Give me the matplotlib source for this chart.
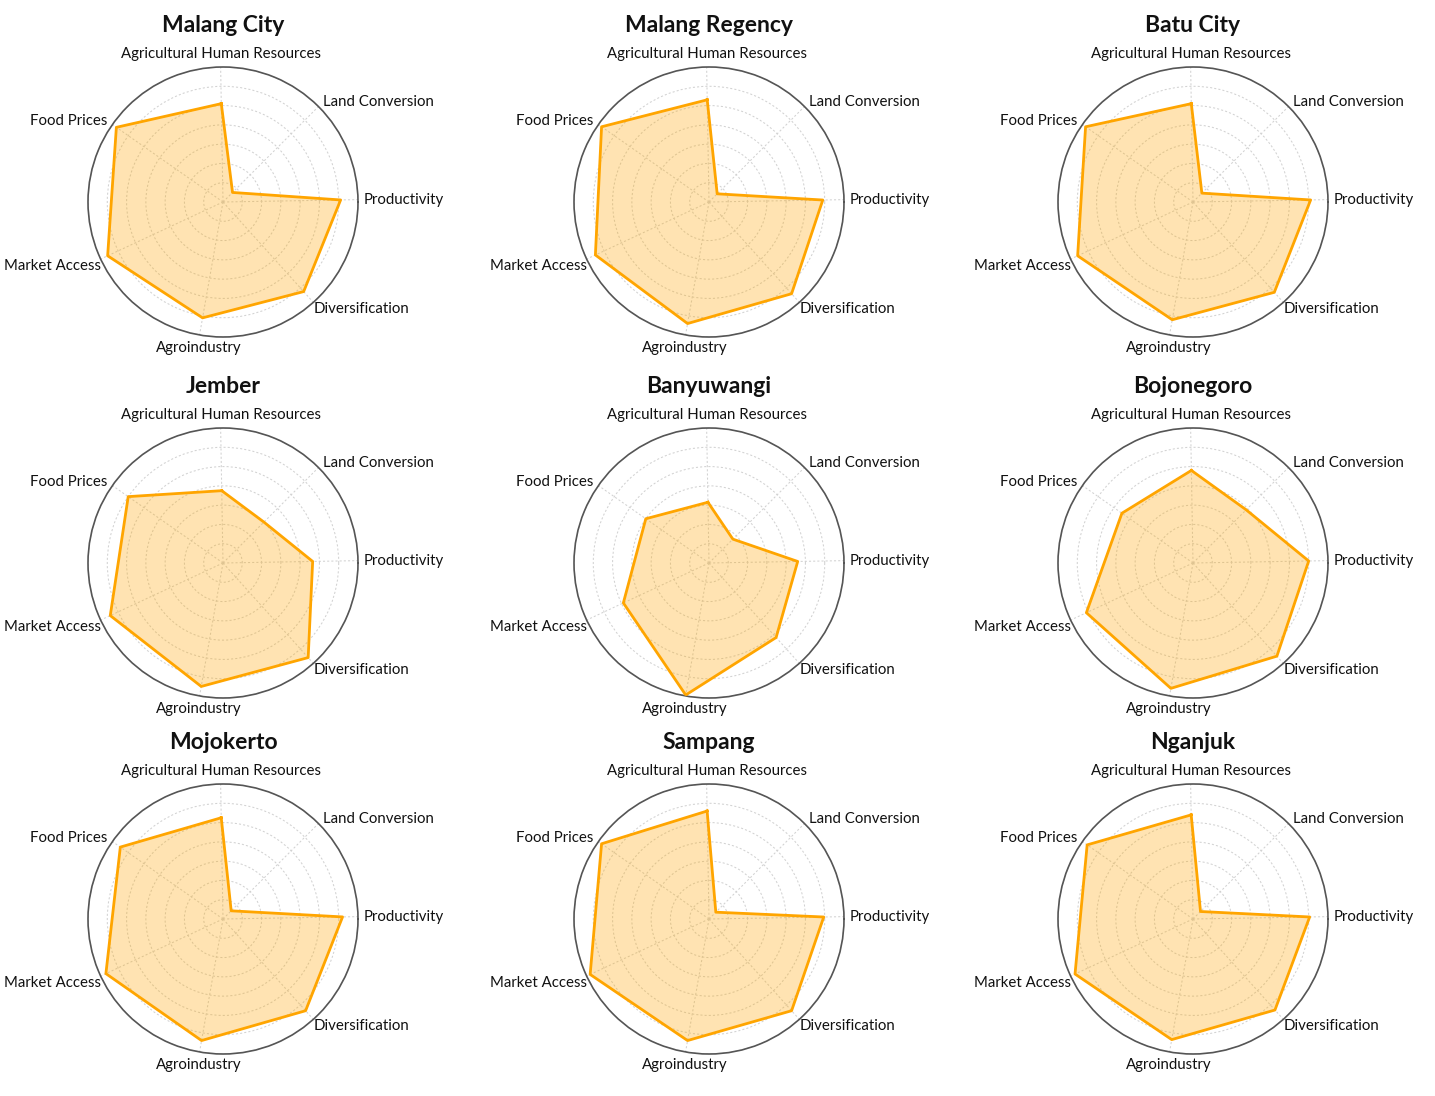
import numpy as np
import matplotlib
matplotlib.use("Agg")
import matplotlib.pyplot as plt

plt.rcParams['font.family'] = ['Lato', 'DejaVu Sans']

categories = ["Agricultural Human Resources", "Land Conversion", "Productivity",
              "Diversification", "Agroindustry", "Market Access", "Food Prices"]

regions = ["Malang City", "Malang Regency", "Batu City",
           "Jember", "Banyuwangi", "Bojonegoro",
           "Mojokerto", "Sampang", "Nganjuk"]

malang_city = [5.1, 0.7, 6.1, 6.25, 6.1, 6.6, 6.75]
malang_regency = [5.3, 0.6, 5.9, 6.4, 6.4, 6.5, 6.8]
batu_city = [5.1, 0.65, 6.1, 6.3, 6.2, 6.6, 6.8]
jember = [3.75, 3.0, 4.65, 6.6, 6.5, 6.45, 6.0]
banyuwangi = [3.15, 1.75, 4.6, 5.2, 6.95, 4.9, 4.0]
bojonegoro = [4.8, 3.9, 6.0, 6.5, 6.6, 6.1, 4.5]
mojokerto = [5.25, 0.6, 6.2, 6.4, 6.4, 6.7, 6.5]
sampang = [5.6, 0.5, 5.95, 6.4, 6.4, 6.8, 6.8]
nganjuk = [5.4, 0.55, 6.05, 6.35, 6.35, 6.75, 6.7]

series = [malang_city, malang_regency, batu_city,
          jember, banyuwangi, bojonegoro,
          mojokerto, sampang, nganjuk]

# layout: direction of each category spoke (degrees, counter-clockwise from east)
spoke_dirs_deg = [91, 45, 1, -48, -100, -155, 145]

r_max = 7
ring_ticks = [1, 2, 3, 4, 5, 6, 7]

W, H = 1435, 1096
fig = plt.figure(figsize=(W / 100, H / 100), dpi=100)

col_cx = [223, 709, 1193]
row_cy = [202, 563, 919]
R = 135

angles = np.deg2rad(np.mod(np.array(spoke_dirs_deg, dtype=float), 360))

for i, (name, vals) in enumerate(zip(regions, series)):
    r, c = divmod(i, 3)
    cx, cy = col_cx[c], row_cy[r]
    rect = [(cx - R) / W, 1 - (cy + R) / H, 2 * R / W, 2 * R / H]
    ax = fig.add_axes(rect, projection='polar')
    v = list(vals) + [vals[0]]
    a = list(angles) + [angles[0]]
    ax.fill(a, v, color='#FFA500', alpha=0.3, zorder=2)
    ax.plot(a, v, color='#FFA500', linewidth=2, zorder=3)

    ax.set_ylim(0, r_max)
    ax.set_yticks(ring_ticks)
    ax.set_yticklabels([])
    ax.set_xticks(angles)
    ax.set_xticklabels([])
    ax.set_xlim(0, 2 * np.pi)
    ax.grid(True, color='#d2d2d2', linestyle=(0, (2, 2)), linewidth=0.75)
    ax.spines['polar'].set_color('#555555')
    ax.spines['polar'].set_linewidth(1.2)
    ax.tick_params(length=0)

    for ang, lab in zip(angles, categories):
        cs, sn = np.cos(ang), np.sin(ang)
        rr = r_max * 1.045
        if abs(cs) < 0.3:
            ha = 'center'
            va = 'bottom' if sn > 0 else 'top'
        else:
            ha = 'left' if cs > 0 else 'right'
            if sn > 0.8:
                va = 'bottom'
            elif sn < -0.3:
                va = 'top'
                rr = r_max * 1.0
            else:
                va = 'center'
        ax.text(ang, rr, lab, ha=ha, va=va, fontsize=10.8, color='#111111')

    ax.text(0.5, 1.155, name, transform=ax.transAxes, ha='center', va='center',
            fontsize=16.5, fontweight='bold', color='#111111')

fig.savefig("out.png", dpi=100, facecolor='white')
